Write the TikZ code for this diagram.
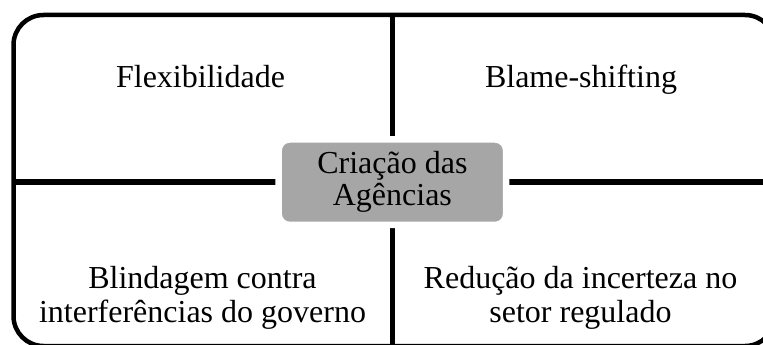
\documentclass[tikz,border=0pt]{standalone}
\usepackage{fontspec}
\setmainfont{Liberation Serif}
\definecolor{boxgray}{HTML}{A6A6A6}
\begin{document}
\begin{tikzpicture}[x=1pt,y=-1pt,
  outerframe/.style={draw=black,line width=4.5pt,rounded corners=30pt},
  divider/.style={draw=black,line width=5.5pt},
  lbl/.style={font=\fontsize{32}{34}\selectfont,align=center,inner sep=0pt},
  centerbox/.style={font=\fontsize{32}{32}\selectfont,align=center,fill=boxgray,draw=white,
    line width=6.5pt,rounded corners=11pt,minimum width=227.5pt,minimum height=85.5pt,inner sep=0pt}]
\useasboundingbox (0,0) rectangle (763,345);
\begin{scope}
\clip (0,0) rectangle (763,345);
\draw[outerframe] (13.5,15) rectangle (775,346);
\coordinate (T) at (392.5,15);
\coordinate (B) at (392.5,346);
\coordinate (L) at (13.5,182);
\coordinate (R) at (775,182);
\draw[divider] (T) -- (B);
\draw[divider] (L) -- (R);
\end{scope}
\node[centerbox] (c) at (392.4,182.2) {Criação das\\Agências};
\node[lbl,anchor=base] (flex) at (200.5,87.3) {Flexibilidade};
\node[lbl,anchor=base] (blame) at (581,87.3) {Blame-shifting};
\node[lbl] (blind) at (202.5,297.5) {Blindagem contra\\interferências do governo};
\node[lbl] (red) at (580.5,297.5) {Redução da incerteza no\\setor regulado};
\end{tikzpicture}
\end{document}
